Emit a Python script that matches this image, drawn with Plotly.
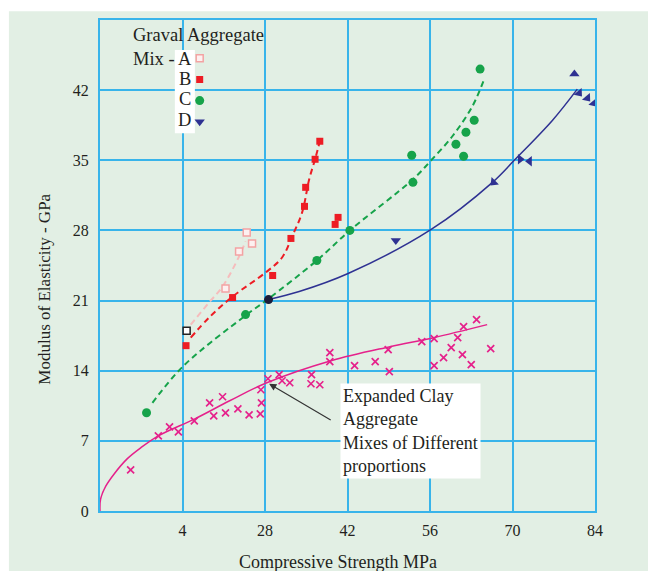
import plotly.graph_objects as go

# ---- data ----
# Expanded clay aggregate mixes
clay_x = [5.2, 9.9, 11.8, 13.3, 16.0, 18.6, 20.8, 19.3, 21.3, 23.4, 25.3, 27.2, 27.4, 27.3,
          28.5, 30.4, 30.9, 32.2, 35.9, 35.8, 37.3, 39.0, 39.0, 43.2, 46.7, 48.9, 49.1,
          54.6, 56.7, 56.7, 58.3, 59.6, 60.7, 61.5, 61.7, 63.0, 63.9, 66.3]
clay_y = [4.1, 7.5, 8.4, 7.9, 9.0, 10.8, 11.4, 9.5, 9.8, 10.2, 9.6, 9.7, 10.8, 12.1,
          13.2, 13.6, 13.0, 12.8, 13.6, 12.7, 12.6, 15.8, 14.9, 14.5, 14.9, 16.1, 13.9,
          16.9, 17.2, 14.5, 15.3, 16.3, 17.3, 15.6, 18.4, 14.6, 19.1, 16.2]
clay_fit_x = [0, 0.1, 1.0, 2.4, 4.6, 6.9, 9.9, 16.1, 22.0, 28.3, 39.2, 49.2, 56.6, 65.7]
clay_fit_y = [0, 1.2, 2.5, 3.7, 5.2, 6.3, 7.5, 9.2, 11.0, 12.8, 15.0, 16.4, 17.3, 18.6]

# Gravel aggregate mixes
a_x = [21.3, 23.6, 24.9, 25.8]
a_y = [22.2, 25.9, 27.8, 26.7]
a_ref_x = [14.7]
a_ref_y = [18.0]
a_fit_x = [15.4, 18.5, 20.8, 23.6, 24.7]
a_fit_y = [18.6, 20.8, 22.4, 25.4, 26.9]

b_x = [14.6, 22.5, 29.3, 32.4, 34.7, 34.9, 36.5, 37.3, 39.9, 40.4]
b_y = [16.5, 21.3, 23.5, 27.2, 30.4, 32.3, 35.1, 36.9, 28.6, 29.3]
b_fit_x = [15.4, 18.5, 22.5, 28.1, 30.9, 32.6, 34.3, 35.5, 36.5, 37.3]
b_fit_y = [17.3, 19.3, 21.4, 23.8, 25.3, 27.4, 29.8, 33.1, 35.1, 36.9]

c_x = [7.9, 24.7, 36.8, 42.4, 53.1, 52.9, 60.4, 61.7, 62.1, 63.5, 64.5]
c_y = [9.8, 19.6, 25.0, 28.0, 32.8, 35.5, 36.6, 35.4, 37.8, 39.0, 44.1]
c_fit_x = [8.9, 14.2, 24.9, 28.4, 36.8, 42.4, 53.1, 56.2, 59.8, 63.2, 65.2]
c_fit_y = [10.8, 14.5, 19.6, 21.1, 25.0, 28.0, 33.1, 35.0, 37.4, 40.4, 43.1]

d_x = [50.2, 66.8, 71.3, 72.9, 80.5, 81.3, 82.7, 83.8]
d_y = [27.0, 32.8, 35.1, 34.9, 43.6, 41.7, 41.2, 40.7]
d_start_x = [28.6]
d_start_y = [21.1]
d_fit_x = [28.6, 33.8, 42.1, 56.2, 66.6, 70.3, 76.8, 81.0]
d_fit_y = [21.1, 21.9, 23.7, 28.1, 32.8, 35.0, 39.0, 42.1]

x_ticks = [14, 28, 42, 56, 70, 84]
x_tick_text = ["4", "28", "42", "56", "70", "84"]
y_ticks = [0, 7, 14, 21, 28, 35, 42]
mix_labels = ["A", "B", "C", "D"]

BG = "#e2efe4"
GRID = "#38b4ea"
TXT = "#231f20"
SERIF = "Liberation Serif, Times New Roman, serif"
MAGENTA = "#e5218b"
PINK = "#f3a3a3"
RED = "#ed1c24"
GREEN = "#16a34a"
NAVY = "#2e3192"

fig = go.Figure()

# fitted curves
fig.add_trace(go.Scatter(x=clay_fit_x, y=clay_fit_y, mode="lines", line_shape="spline",
                         line=dict(color=MAGENTA, width=1.5), showlegend=False, hoverinfo="skip"))
fig.add_trace(go.Scatter(x=a_fit_x, y=a_fit_y, mode="lines", line_shape="spline",
                         line=dict(color="#f6bcbc", width=2, dash="6px,4px"), showlegend=False))
fig.add_trace(go.Scatter(x=b_fit_x, y=b_fit_y, mode="lines", line_shape="spline",
                         line=dict(color=RED, width=2, dash="6px,4px"), showlegend=False))
fig.add_trace(go.Scatter(x=c_fit_x, y=c_fit_y, mode="lines", line_shape="spline",
                         line=dict(color=GREEN, width=2, dash="6px,4px"), showlegend=False))
fig.add_trace(go.Scatter(x=d_fit_x, y=d_fit_y, mode="lines", line_shape="spline",
                         line=dict(color=NAVY, width=1.5), showlegend=False))

# measured points
fig.add_trace(go.Scatter(x=clay_x, y=clay_y, mode="markers", showlegend=False,
                         marker=dict(symbol="x-thin", size=7, line=dict(color=MAGENTA, width=1.7))))
fig.add_trace(go.Scatter(x=a_ref_x, y=a_ref_y, mode="markers", showlegend=False,
                         marker=dict(symbol="square", size=7, color="white",
                                     line=dict(color="#222", width=1.5))))
fig.add_trace(go.Scatter(x=d_start_x, y=d_start_y, mode="markers", showlegend=False,
                         marker=dict(symbol="circle", size=9, color="#1c1c3a")))

fig.add_trace(go.Scatter(x=a_x, y=a_y, mode="markers", name=" ",
                         marker=dict(symbol="square", size=7, color="#fdf0f0",
                                     line=dict(color=PINK, width=1.5))))
fig.add_trace(go.Scatter(x=b_x, y=b_y, mode="markers", name=" ",
                         marker=dict(symbol="square", size=7, color=RED)))
fig.add_trace(go.Scatter(x=c_x, y=c_y, mode="markers", name=" ",
                         marker=dict(symbol="circle", size=9, color=GREEN)))
fig.add_trace(go.Scatter(x=d_x, y=d_y, mode="markers", name=" ",
                         marker=dict(symbol=["triangle-down", "triangle-down", "triangle-right",
                                             "triangle-left", "triangle-up", "triangle-down",
                                             "triangle-down", "triangle-down"],
                                     angle=[0, 45, 0, 0, 0, -40, -40, -40],
                                     size=9, color=NAVY)))

# figure background (white strip at top/left like the scan)
fig.add_shape(type="rect", xref="paper", yref="paper", layer="below",
              x0=-0.184, x1=1.2, y0=-0.2, y1=1.018, fillcolor=BG, line_width=0)

# legend block
fig.add_shape(type="rect", xref="x", yref="y", x0=12.7, x1=16.1, y0=37.7, y1=46.0,
              fillcolor="white", line_width=0, layer="above")
fig.add_annotation(x=5.3, y=47.5, xref="x", yref="y", text="Graval Aggregate",
                   showarrow=False, xanchor="left", font=dict(family=SERIF, size=18.5, color=TXT))
fig.add_annotation(x=5.3, y=45.1, xref="x", yref="y", text="Mix -",
                   showarrow=False, xanchor="left", font=dict(family=SERIF, size=18.5, color=TXT))
for lab, yy in zip(mix_labels, [45.1, 43.1, 41.1, 39.0]):
    fig.add_annotation(x=14.4, y=yy, xref="x", yref="y", text=lab, showarrow=False,
                       font=dict(family=SERIF, size=18.5, color=TXT))

# callout
fig.add_annotation(x=28.7, y=12.7, ax=39.4, ay=9.0, xref="x", yref="y", axref="x", ayref="y",
                   text="", showarrow=True, arrowhead=2, arrowsize=1.2, arrowwidth=1.2,
                   arrowcolor="#333")
fig.add_annotation(x=40.8, y=12.8, xref="x", yref="y", xanchor="left", yanchor="top",
                   text="Expanded Clay<br>Aggregate<br>Mixes of Different<br>proportions",
                   align="left", showarrow=False, bgcolor="white", borderpad=2,
                   font=dict(family=SERIF, size=18, color=TXT))

# axis titles
fig.add_annotation(x=0.48, y=-0.104, xref="paper", yref="paper", xanchor="center",
                   yanchor="middle", text="Compressive Strength MPa", showarrow=False,
                   font=dict(family=SERIF, size=18, color=TXT))
fig.add_annotation(x=-0.112, y=0.452, xref="paper", yref="paper", xanchor="center",
                   yanchor="middle", textangle=-90, text="Modulus of Elasticity - GPa",
                   showarrow=False, font=dict(family=SERIF, size=17, color=TXT))

# the page body adds an 8px offset, so margins are trimmed on top/left
fig.update_layout(
    width=656, height=571,
    margin=dict(l=92, r=69, t=12, b=68),
    paper_bgcolor="white", plot_bgcolor=BG,
    font=dict(family=SERIF, size=16, color=TXT),
    showlegend=True,
    legend=dict(x=0.161, y=0.954, xanchor="left", yanchor="top", bgcolor="rgba(0,0,0,0)",
                font=dict(size=14), tracegroupgap=0),
    xaxis=dict(range=[0, 84], tickvals=x_ticks, ticktext=x_tick_text, showgrid=True,
               gridcolor=GRID, gridwidth=2, zeroline=False, showline=True, linecolor=GRID,
               linewidth=2, mirror=True, ticks="outside", ticklen=4, tickcolor="rgba(0,0,0,0)",
               automargin=False),
    yaxis=dict(range=[0, 49], tickvals=y_ticks, showgrid=True, gridcolor=GRID, gridwidth=2,
               zeroline=False, showline=True, linecolor=GRID, linewidth=2, mirror=True,
               ticks="outside", ticklen=6, tickcolor="rgba(0,0,0,0)", automargin=False),
)

fig.write_html("out.html")
